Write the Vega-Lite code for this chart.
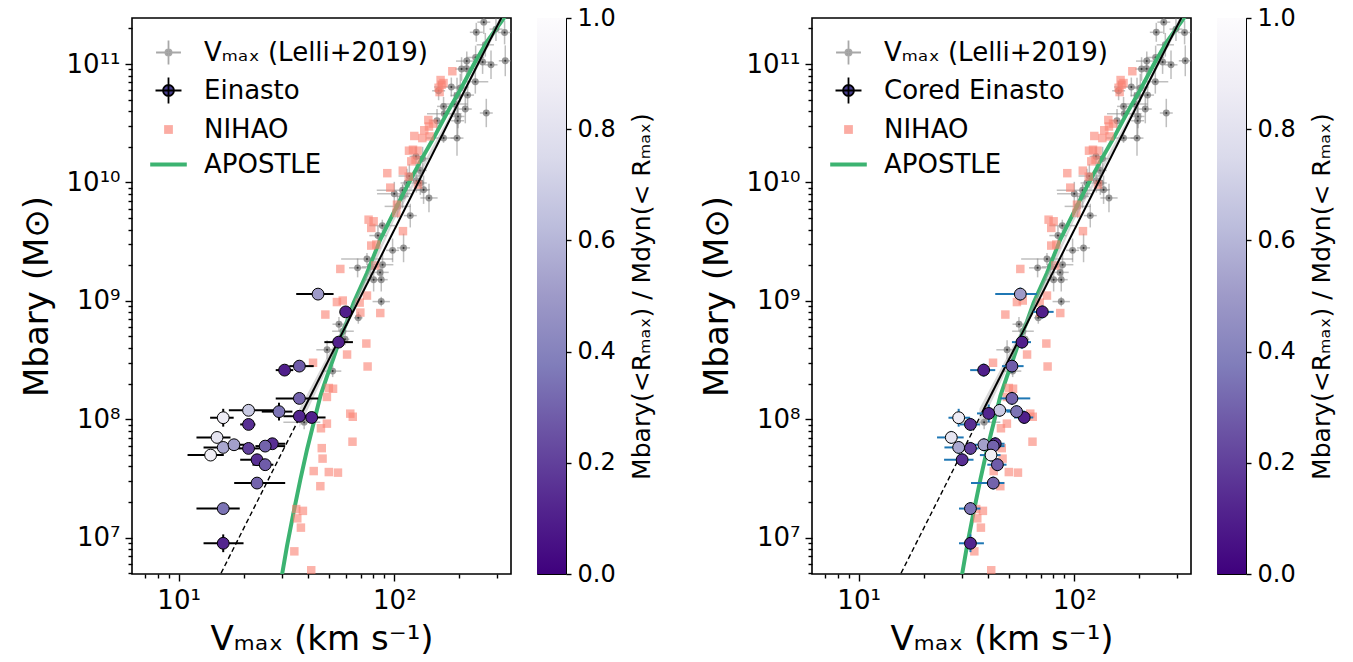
{
"$schema": "https://vega.github.io/schema/vega-lite/v6.json",
"background": "white",
"padding": {"left": 19, "top": 5, "right": 5, "bottom": 5},
"config": {
  "font": "DejaVu Sans",
  "view": {"stroke": "black", "strokeWidth": 1.6},
  "axis": {"domain": false, "grid": false, "tickColor": "black", "tickWidth": 1.4, "labelFontSize": 26, "labelColor": "black", "titleFontSize": 34, "titleFontWeight": "normal", "titleColor": "black", "labelFont": "DejaVu Sans", "titleFont": "DejaVu Sans"},
  "legend": {"labelColor": "black", "titleColor": "black", "titleFontWeight": "normal", "labelFont": "DejaVu Sans", "titleFont": "DejaVu Sans", "labelLimit": 500, "titleLimit": 800}
},
"datasets": {
  "lelli": [
    {"V":260,"M":2.26e11,"Vlo":242.7,"Vhi":278.6,"Mlo":1.795e11,"Mhi":2.845e11},
    {"V":240,"M":1.855e11,"Vlo":224.0,"Vhi":257.2,"Mlo":1.543e11,"Mhi":2.23e11},
    {"V":324.6,"M":1.848e11,"Vlo":302.9,"Vhi":347.8,"Mlo":1.468e11,"Mhi":2.326e11},
    {"V":296.1,"M":1.974e11,"Vlo":276.3,"Vhi":317.3,"Mlo":1.568e11,"Mhi":2.485e11},
    {"V":264.2,"M":1.455e11,"Vlo":240.9,"Vhi":289.7,"Mlo":1.156e11,"Mhi":1.832e11},
    {"V":327,"M":1.066e11,"Vlo":305.2,"Vhi":350.4,"Mlo":7.9e10,"Mhi":1.438e11},
    {"V":216.8,"M":1.06e11,"Vlo":193.2,"Vhi":243.3,"Mlo":8.82e10,"Mhi":1.274e11},
    {"V":238.3,"M":1.137e11,"Vlo":217.3,"Vhi":261.3,"Mlo":9.03e10,"Mhi":1.431e11},
    {"V":256.7,"M":1.04e11,"Vlo":239.6,"Vhi":275.1,"Mlo":8.26e10,"Mhi":1.309e11},
    {"V":280.8,"M":9.86e10,"Vlo":262.1,"Vhi":300.9,"Mlo":7.48e10,"Mhi":1.3e11},
    {"V":205.1,"M":9.08e10,"Vlo":191.4,"Vhi":219.8,"Mlo":7.21e10,"Mhi":1.143e11},
    {"V":216.4,"M":9.13e10,"Vlo":197.4,"Vhi":237.3,"Mlo":7.25e10,"Mhi":1.149e11},
    {"V":237.5,"M":7.09e10,"Vlo":206.8,"Vhi":272.7,"Mlo":5.63e10,"Mhi":8.93e10},
    {"V":183.8,"M":6.4e10,"Vlo":152.9,"Vhi":221.0,"Mlo":5.32e10,"Mhi":7.69e10},
    {"V":202.3,"M":6.27e10,"Vlo":188.8,"Vhi":216.8,"Mlo":4.76e10,"Mhi":8.27e10},
    {"V":160.5,"M":5.95e10,"Vlo":149.8,"Vhi":172.0,"Mlo":4.95e10,"Mhi":7.15e10},
    {"V":218.7,"M":5.47e10,"Vlo":204.1,"Vhi":234.3,"Mlo":4.35e10,"Mhi":6.89e10},
    {"V":195.3,"M":5.43e10,"Vlo":182.3,"Vhi":209.3,"Mlo":3.84e10,"Mhi":7.67e10},
    {"V":169.2,"M":4.39e10,"Vlo":157.9,"Vhi":181.3,"Mlo":3.65e10,"Mhi":5.28e10},
    {"V":213.4,"M":4.17e10,"Vlo":199.2,"Vhi":228.7,"Mlo":3.16e10,"Mhi":5.5e10},
    {"V":190.3,"M":4.6e10,"Vlo":165.7,"Vhi":218.5,"Mlo":3.65e10,"Mhi":5.79e10},
    {"V":267,"M":3.86e10,"Vlo":249.2,"Vhi":286.1,"Mlo":2.93e10,"Mhi":5.09e10},
    {"V":197.4,"M":3.61e10,"Vlo":184.2,"Vhi":211.5,"Mlo":2.87e10,"Mhi":4.54e10},
    {"V":170.5,"M":3.81e10,"Vlo":141.8,"Vhi":205.0,"Mlo":3.32e10,"Mhi":4.37e10},
    {"V":196.6,"M":3.32e10,"Vlo":183.5,"Vhi":210.7,"Mlo":2.52e10,"Mhi":4.38e10},
    {"V":157.8,"M":3.32e10,"Vlo":147.3,"Vhi":169.1,"Mlo":2.64e10,"Mhi":4.18e10},
    {"V":195.3,"M":2.37e10,"Vlo":182.3,"Vhi":209.3,"Mlo":1.68e10,"Mhi":3.35e10},
    {"V":169.2,"M":2.37e10,"Vlo":140.7,"Vhi":203.4,"Mlo":2.16e10,"Mhi":2.6e10},
    {"V":126.1,"M":1.66e10,"Vlo":117.7,"Vhi":135.1,"Mlo":1.38e10,"Mhi":2.0e10},
    {"V":135.3,"M":1.59e10,"Vlo":126.3,"Vhi":145.0,"Mlo":1.263e10,"Mhi":2.0e10},
    {"V":132,"M":1.265e10,"Vlo":123.2,"Vhi":141.4,"Mlo":9.6e9,"Mhi":1.668e10},
    {"V":117.4,"M":1.134e10,"Vlo":104.6,"Vhi":131.7,"Mlo":9.01e9,"Mhi":1.428e10},
    {"V":126.5,"M":1.035e10,"Vlo":118.1,"Vhi":135.5,"Mlo":8.22e9,"Mhi":1.303e10},
    {"V":132,"M":9.9e9,"Vlo":123.2,"Vhi":141.4,"Mlo":7.86e9,"Mhi":1.246e10},
    {"V":114.5,"M":9.9e9,"Vlo":106.9,"Vhi":122.7,"Mlo":7.51e9,"Mhi":1.305e10},
    {"V":136.7,"M":8.69e9,"Vlo":127.6,"Vhi":146.5,"Mlo":6.59e9,"Mhi":1.146e10},
    {"V":109.3,"M":8.58e9,"Vlo":82.9,"Vhi":144.1,"Mlo":7.65e9,"Mhi":9.63e9},
    {"V":144.8,"M":7.4e9,"Vlo":132.1,"Vhi":158.8,"Mlo":5.61e9,"Mhi":9.76e9},
    {"V":100,"M":8.04e9,"Vlo":83.2,"Vhi":120.2,"Mlo":6.39e9,"Mhi":1.012e10},
    {"V":109.3,"M":7.63e9,"Vlo":102.0,"Vhi":117.1,"Mlo":6.06e9,"Mhi":9.61e9},
    {"V":103.6,"M":6.28e9,"Vlo":90.2,"Vhi":119.0,"Mlo":4.99e9,"Mhi":7.91e9},
    {"V":118.6,"M":5.25e9,"Vlo":110.7,"Vhi":127.1,"Mlo":4.17e9,"Mhi":6.61e9},
    {"V":88,"M":4.32e9,"Vlo":76.6,"Vhi":101.0,"Mlo":3.85e9,"Mhi":4.85e9},
    {"V":84,"M":3.56e9,"Vlo":76.6,"Vhi":92.1,"Mlo":2.96e9,"Mhi":4.28e9},
    {"V":110.4,"M":2.8e9,"Vlo":103.0,"Vhi":118.3,"Mlo":2.12e9,"Mhi":3.69e9},
    {"V":98.2,"M":2.67e9,"Vlo":91.6,"Vhi":105.2,"Mlo":2.12e9,"Mhi":3.36e9},
    {"V":74.7,"M":2.26e9,"Vlo":56.7,"Vhi":98.5,"Mlo":2.01e9,"Mhi":2.54e9},
    {"V":67.6,"M":1.9e9,"Vlo":61.7,"Vhi":74.1,"Mlo":1.58e9,"Mhi":2.28e9},
    {"V":88.2,"M":2.02e9,"Vlo":78.6,"Vhi":99.0,"Mlo":1.6e9,"Mhi":2.54e9},
    {"V":77.4,"M":1.94e9,"Vlo":70.6,"Vhi":84.9,"Mlo":1.61e9,"Mhi":2.33e9},
    {"V":85.9,"M":1.74e9,"Vlo":78.3,"Vhi":94.2,"Mlo":1.52e9,"Mhi":2.0e9},
    {"V":80.2,"M":1.51e9,"Vlo":73.1,"Vhi":87.9,"Mlo":1.2e9,"Mhi":1.9e9},
    {"V":87,"M":1.51e9,"Vlo":81.2,"Vhi":93.2,"Mlo":1.2e9,"Mhi":1.9e9},
    {"V":87,"M":9.86e8,"Vlo":79.3,"Vhi":95.4,"Mlo":8.99e8,"Mhi":1.081e9},
    {"V":68.1,"M":7.19e8,"Vlo":65.0,"Vhi":71.3,"Mlo":6.41e8,"Mhi":8.07e8},
    {"V":55.4,"M":6.35e8,"Vlo":51.7,"Vhi":59.4,"Mlo":5.53e8,"Mhi":7.29e8},
    {"V":57.8,"M":5.54e8,"Vlo":51.5,"Vhi":64.9,"Mlo":4.94e8,"Mhi":6.22e8},
    {"V":59.1,"M":4.74e8,"Vlo":56.4,"Vhi":61.9,"Mlo":4.22e8,"Mhi":5.32e8},
    {"V":48.8,"M":3.86e8,"Vlo":43.5,"Vhi":54.8,"Mlo":3.21e8,"Mhi":4.64e8},
    {"V":51.8,"M":2.55e8,"Vlo":47.2,"Vhi":56.8,"Mlo":2.27e8,"Mhi":2.86e8},
    {"V":38.2,"M":9.45e7,"Vlo":30.6,"Vhi":45.4,"Mlo":8.23e7,"Mhi":1.085e8}
  ],
  "nihao": [
    {"V":185.8,"M":8.7e10},{"V":163.9,"M":7.33e10},{"V":169.2,"M":6.91e10},{"V":165.7,"M":6.69e10},
    {"V":160.5,"M":6.31e10},{"V":162.2,"M":5.8e10},{"V":143.8,"M":3.37e10},{"V":151.2,"M":3.14e10},
    {"V":144.8,"M":2.97e10},{"V":137.7,"M":2.76e10},{"V":123.8,"M":2.47e10},{"V":134.9,"M":2.37e10},
    {"V":145.7,"M":2.45e10},{"V":117.0,"M":1.855e10},{"V":122.1,"M":1.891e10},{"V":128.2,"M":1.855e10},
    {"V":119.9,"M":1.507e10},{"V":125.5,"M":1.557e10},{"V":92.8,"M":1.198e10},{"V":109.5,"M":1.258e10},
    {"V":116.7,"M":1.119e10},{"V":95.8,"M":9.04e9},{"V":128.8,"M":9.58e9},{"V":102.9,"M":6.49e9},
    {"V":102.2,"M":5.53e9},{"V":76.0,"M":4.85e9},{"V":80.2,"M":4.7e9},{"V":78.2,"M":4.13e9},
    {"V":109.7,"M":3.88e9},{"V":78.2,"M":2.93e9},{"V":82.5,"M":2.99e9},{"V":56.2,"M":1.86e9},
    {"V":81.6,"M":1.99e9},{"V":74.7,"M":1.108e9},{"V":57.7,"M":1.006e9},{"V":54.2,"M":9.77e8},
    {"V":69.1,"M":9.67e8},{"V":47.9,"M":7.66e8},{"V":69.6,"M":7.96e8},{"V":86.1,"M":7.89e8},
    {"V":74.2,"M":4.36e8},{"V":60.4,"M":3.52e8},{"V":75.2,"M":2.79e8},{"V":42.0,"M":3.0e8},
    {"V":49.7,"M":1.837e8},{"V":52.0,"M":1.81e8},{"V":48.7,"M":1.543e8},{"V":62.5,"M":1.115e8},
    {"V":64.2,"M":1.05e8},{"V":48.7,"M":9.18e7},{"V":45.7,"M":8.39e7},{"V":64.0,"M":6.46e7},
    {"V":46.1,"M":5.7e7},{"V":46.5,"M":4.65e7},{"V":42.3,"M":3.65e7},{"V":49.7,"M":3.58e7},
    {"V":54.8,"M":3.54e7},{"V":45.4,"M":2.72e7},{"V":35.1,"M":1.742e7},{"V":37.7,"M":1.683e7},
    {"V":35.5,"M":1.455e7},{"V":36.9,"M":1.215e7},{"V":34.4,"M":7.66e6},{"V":41.2,"M":5.3e6}
  ],
  "apostle": [
    {"V":29.6,"M":4.03e6},{"V":30.2,"M":4.93e6},{"V":31.8,"M":8.49e6},{"V":34.1,"M":1.625e7},
    {"V":36.7,"M":3.1e7},{"V":39.4,"M":5.56e7},{"V":42.3,"M":9.34e7},{"V":45.4,"M":1.566e8},
    {"V":48.8,"M":2.31e8},{"V":52.3,"M":3.3e8},{"V":56.2,"M":4.87e8},{"V":60.4,"M":6.73e8},
    {"V":64.8,"M":9.62e8},{"V":74.7,"M":1.72e9},{"V":86.1,"M":3.29e9},{"V":99.2,"M":5.53e9},
    {"V":114.5,"M":9.27e9},{"V":132.0,"M":1.507e10},{"V":152.1,"M":2.37e10},{"V":175.5,"M":3.86e10},
    {"V":202.3,"M":6.07e10},{"V":233.2,"M":9.86e10},{"V":269.1,"M":1.551e11},{"V":330.5,"M":2.61e11},
    {"V":352.4,"M":3.17e11}
  ],
  "band": [
    {"V":36.3,"Mlo":8.5e7,"Mhi":1.227e8},{"V":56.2,"Mlo":4.54e8,"Mhi":5.47e8},
    {"V":100,"Mlo":4.79e9,"Mhi":5.24e9},{"V":199.5,"Mlo":4.55e10,"Mhi":5.1e10},
    {"V":354.8,"Mlo":3.55e11,"Mhi":4.17e11}
  ],
  "fitsolid": [{"V":37.33,"M":1.134e8},{"V":354.8,"M":3.85e11}],
  "fitdash": [{"V":15.14,"M":4.36e6},{"V":37.33,"M":1.134e8}],
  "cbar": [{"lo":0,"hi":1,"a":0,"b":1}],
  "ein": [
    {"V":44.3,"Vlo":35.1,"Vhi":52.3,"M":1.14e9,"Mlo":1.04e9,"Mhi":1.25e9,"r":0.5},
    {"V":59.5,"Vlo":56.2,"Vhi":63.9,"M":8.07e8,"Mlo":7.36e8,"Mhi":8.85e8,"r":0.1},
    {"V":55.2,"Vlo":47.4,"Vhi":64.3,"M":4.48e8,"Mlo":4.09e8,"Mhi":4.91e8,"r":0.1},
    {"V":31.0,"Vlo":28.2,"Vhi":34.0,"M":2.6e8,"Mlo":2.37e8,"Mhi":2.85e8,"r":0.1},
    {"V":36.3,"Vlo":32.6,"Vhi":42.3,"M":2.81e8,"Mlo":2.56e8,"Mhi":3.08e8,"r":0.28},
    {"V":36.3,"Vlo":28.2,"Vhi":44.4,"M":1.5e8,"Mlo":1.368e8,"Mhi":1.645e8,"r":0.3},
    {"V":21.1,"Vlo":17.1,"Vhi":28.6,"M":1.19e8,"Mlo":1.085e8,"Mhi":1.305e8,"r":0.68},
    {"V":29.2,"Vlo":24.3,"Vhi":33.7,"M":1.16e8,"Mlo":9.76e7,"Mhi":1.379e8,"r":0.35},
    {"V":36.3,"Vlo":30.6,"Vhi":40.8,"M":1.06e8,"Mlo":9.67e7,"Mhi":1.162e8,"r":0.12},
    {"V":41.4,"Vlo":36.7,"Vhi":48.0,"M":1.035e8,"Mlo":9.44e7,"Mhi":1.135e8,"r":0.1},
    {"V":16.1,"Vlo":14.0,"Vhi":18.0,"M":1.03e8,"Mlo":8.66e7,"Mhi":1.225e8,"r":0.87},
    {"V":21.1,"Vlo":19.3,"Vhi":22.7,"M":9.04e7,"Mlo":8.24e7,"Mhi":9.91e7,"r":0.15},
    {"V":15.07,"Vlo":12.1,"Vhi":17.4,"M":7.02e7,"Mlo":6.4e7,"Mhi":7.7e7,"r":0.82},
    {"V":16.1,"Vlo":13.05,"Vhi":19.3,"M":5.78e7,"Mlo":5.27e7,"Mhi":6.34e7,"r":0.55},
    {"V":18.06,"Vlo":15.5,"Vhi":21.0,"M":6.09e7,"Mlo":5.55e7,"Mhi":6.68e7,"r":0.52},
    {"V":14.07,"Vlo":11.0,"Vhi":16.2,"M":4.98e7,"Mlo":4.54e7,"Mhi":5.46e7,"r":0.88},
    {"V":21.1,"Vlo":18.5,"Vhi":24.0,"M":5.67e7,"Mlo":5.17e7,"Mhi":6.22e7,"r":0.2},
    {"V":27.2,"Vlo":24.5,"Vhi":31.2,"M":6.21e7,"Mlo":5.66e7,"Mhi":6.81e7,"r":0.15},
    {"V":25.2,"Vlo":22.7,"Vhi":31.2,"M":5.93e7,"Mlo":5.41e7,"Mhi":6.5e7,"r":0.3},
    {"V":23.1,"Vlo":19.3,"Vhi":25.2,"M":4.55e7,"Mlo":4.15e7,"Mhi":4.99e7,"r":0.15},
    {"V":25.2,"Vlo":22.0,"Vhi":27.5,"M":4.13e7,"Mlo":3.77e7,"Mhi":4.53e7,"r":0.28},
    {"V":23.1,"Vlo":18.1,"Vhi":31.2,"M":2.89e7,"Mlo":2.64e7,"Mhi":3.17e7,"r":0.3},
    {"V":16.1,"Vlo":12.1,"Vhi":19.2,"M":1.76e7,"Mlo":1.605e7,"Mhi":1.93e7,"r":0.35},
    {"V":16.1,"Vlo":13.05,"Vhi":20.0,"M":8.96e6,"Mlo":7.54e6,"Mhi":1.065e7,"r":0.12}
  ],
  "cored": [
    {"V":56.2,"Vlo":43.0,"Vhi":67.1,"M":1.14e9,"Mlo":1.004e9,"Mhi":1.294e9,"r":0.5},
    {"V":71.1,"Vlo":64.7,"Vhi":80.2,"M":8.07e8,"Mlo":7.11e8,"Mhi":9.16e8,"r":0.1},
    {"V":57.2,"Vlo":51.4,"Vhi":63.0,"M":4.48e8,"Mlo":3.95e8,"Mhi":5.08e8,"r":0.1},
    {"V":38.0,"Vlo":32.9,"Vhi":43.0,"M":2.6e8,"Mlo":2.29e8,"Mhi":2.95e8,"r":0.1},
    {"V":51.4,"Vlo":46.2,"Vhi":58.2,"M":2.81e8,"Mlo":2.48e8,"Mhi":3.19e8,"r":0.28},
    {"V":51.4,"Vlo":45.4,"Vhi":62.5,"M":1.5e8,"Mlo":1.322e8,"Mhi":1.703e8,"r":0.3},
    {"V":58.6,"Vlo":52.5,"Vhi":64.5,"M":1.035e8,"Mlo":9.12e7,"Mhi":1.175e8,"r":0.1},
    {"V":45.1,"Vlo":40.8,"Vhi":50.5,"M":1.19e8,"Mlo":1.048e8,"Mhi":1.351e8,"r":0.68},
    {"V":54.0,"Vlo":48.5,"Vhi":59.0,"M":1.16e8,"Mlo":1.022e8,"Mhi":1.317e8,"r":0.35},
    {"V":40.1,"Vlo":35.4,"Vhi":45.4,"M":1.12e8,"Mlo":9.42e7,"Mhi":1.332e8,"r":0.12},
    {"V":29.1,"Vlo":26.1,"Vhi":32.9,"M":1.03e8,"Mlo":8.66e7,"Mhi":1.225e8,"r":0.87},
    {"V":33.0,"Vlo":29.5,"Vhi":36.5,"M":9.04e7,"Mlo":7.96e7,"Mhi":1.026e8,"r":0.15},
    {"V":26.9,"Vlo":23.1,"Vhi":30.7,"M":7.02e7,"Mlo":6.19e7,"Mhi":7.97e7,"r":0.82},
    {"V":29.1,"Vlo":25.0,"Vhi":32.5,"M":5.78e7,"Mlo":5.09e7,"Mhi":6.56e7,"r":0.55},
    {"V":33.0,"Vlo":30.0,"Vhi":36.0,"M":5.67e7,"Mlo":5.0e7,"Mhi":6.44e7,"r":0.2},
    {"V":43.0,"Vlo":39.0,"Vhi":47.5,"M":6.21e7,"Mlo":5.47e7,"Mhi":7.05e7,"r":0.15},
    {"V":38.1,"Vlo":34.0,"Vhi":42.5,"M":6.09e7,"Mlo":5.37e7,"Mhi":6.91e7,"r":0.52},
    {"V":42.1,"Vlo":37.0,"Vhi":47.5,"M":5.93e7,"Mlo":5.22e7,"Mhi":6.73e7,"r":0.3},
    {"V":41.1,"Vlo":36.5,"Vhi":45.5,"M":4.98e7,"Mlo":4.39e7,"Mhi":5.65e7,"r":0.88},
    {"V":30.2,"Vlo":24.9,"Vhi":34.1,"M":4.55e7,"Mlo":4.01e7,"Mhi":5.16e7,"r":0.15},
    {"V":44.0,"Vlo":39.5,"Vhi":48.5,"M":4.13e7,"Mlo":3.64e7,"Mhi":4.69e7,"r":0.28},
    {"V":42.1,"Vlo":33.2,"Vhi":47.4,"M":2.89e7,"Mlo":2.55e7,"Mhi":3.28e7,"r":0.3},
    {"V":33.0,"Vlo":29.2,"Vhi":36.7,"M":1.76e7,"Mlo":1.551e7,"Mhi":1.998e7,"r":0.35},
    {"V":33.0,"Vlo":29.2,"Vhi":38.1,"M":8.96e6,"Mlo":7.54e6,"Mhi":1.065e7,"r":0.12}
  ]
},
"spacing": 44,
"resolve": {"scale": {"color": "independent", "fill": "independent", "stroke": "independent", "shape": "independent"}, "legend": {"color": "independent", "fill": "independent", "stroke": "independent", "shape": "independent"}},
"hconcat": [
{
 "spacing": 24,
 "hconcat": [
 {
  "width": 379, "height": 556,
  "layer": [
    {"data": {"name": "lelli"}, "mark": {"type": "rule", "clip": true, "color": "#808080", "opacity": 0.5, "strokeWidth": 1.5},
     "encoding": {
       "x": {"field": "Vlo", "type": "quantitative", "scale": {"type": "log", "domain": [6.08, 347.6], "nice": false},
             "axis": {"values": [7,8,9,10,20,30,40,50,60,70,80,90,100,200,300], "labelExpr": "datum.value == 10 ? '10¹' : datum.value == 100 ? '10²' : ''", "tickSize": {"expr": "(datum.value == 10 || datum.value == 100) ? 7 : 4"}, "title": "Vₘₐₓ (km s⁻¹)", "titlePadding": 9, "labelPadding": 6, "labelFlush": false, "labelOverlap": false}},
       "x2": {"field": "Vhi"},
       "y": {"field": "M", "type": "quantitative", "scale": {"type": "log", "domain": [4.93e6, 2.45e11], "nice": false},
             "axis": {"values": [5e6,6e6,7e6,8e6,9e6,1e7,2e7,3e7,4e7,5e7,6e7,7e7,8e7,9e7,1e8,2e8,3e8,4e8,5e8,6e8,7e8,8e8,9e8,1e9,2e9,3e9,4e9,5e9,6e9,7e9,8e9,9e9,1e10,2e10,3e10,4e10,5e10,6e10,7e10,8e10,9e10,1e11,2e11], "labelExpr": "datum.value == 1e7 ? '10⁷' : datum.value == 1e8 ? '10⁸' : datum.value == 1e9 ? '10⁹' : datum.value == 1e10 ? '10¹⁰' : datum.value == 1e11 ? '10¹¹' : ''", "tickSize": {"expr": "indexof([1e7,1e8,1e9,1e10,1e11], datum.value) >= 0 ? 7 : 4"}, "title": "Mbary (M⊙)", "titlePadding": 12, "labelPadding": 5, "labelOverlap": false}}
     }},
    {"data": {"name": "lelli"}, "mark": {"type": "rule", "clip": true, "color": "#808080", "opacity": 0.5, "strokeWidth": 1.5},
     "encoding": {"x": {"field": "V", "type": "quantitative", "title": "Vₘₐₓ (km s⁻¹)"}, "y": {"field": "Mlo", "type": "quantitative", "title": "Mbary (M⊙)"}, "y2": {"field": "Mhi"}}},
    {"data": {"name": "lelli"}, "mark": {"type": "point", "filled": true, "clip": true, "color": "#808080", "opacity": 0.8, "size": 48},
     "encoding": {"x": {"field": "V", "type": "quantitative", "title": "Vₘₐₓ (km s⁻¹)"}, "y": {"field": "M", "type": "quantitative", "title": "Mbary (M⊙)"}}},
    {"data": {"name": "lelli"}, "mark": {"type": "point", "filled": true, "clip": true, "color": "#2b2b2b", "opacity": 0.9, "size": 4},
     "encoding": {"x": {"field": "V", "type": "quantitative", "title": "Vₘₐₓ (km s⁻¹)"}, "y": {"field": "M", "type": "quantitative", "title": "Mbary (M⊙)"}}},
    {"data": {"name": "apostle"}, "mark": {"type": "line", "clip": true, "color": "#3cb371", "strokeWidth": 4},
     "encoding": {"x": {"field": "V", "type": "quantitative", "title": "Vₘₐₓ (km s⁻¹)"}, "y": {"field": "M", "type": "quantitative", "title": "Mbary (M⊙)"}}},
    {"data": {"name": "nihao"}, "mark": {"type": "point", "shape": "square", "filled": true, "clip": true, "color": "#fa8072", "opacity": 0.6, "size": 72},
     "encoding": {"x": {"field": "V", "type": "quantitative", "title": "Vₘₐₓ (km s⁻¹)"}, "y": {"field": "M", "type": "quantitative", "title": "Mbary (M⊙)"}}},
    {"data": {"name": "band"}, "mark": {"type": "area", "clip": true, "color": "#aaaaaa", "opacity": 0.45},
     "encoding": {"x": {"field": "V", "type": "quantitative", "title": "Vₘₐₓ (km s⁻¹)"}, "y": {"field": "Mlo", "type": "quantitative", "title": "Mbary (M⊙)"}, "y2": {"field": "Mhi"}}},
    {"data": {"name": "fitsolid"}, "mark": {"type": "line", "clip": true, "color": "black", "strokeWidth": 2},
     "encoding": {"x": {"field": "V", "type": "quantitative", "title": "Vₘₐₓ (km s⁻¹)"}, "y": {"field": "M", "type": "quantitative", "title": "Mbary (M⊙)"}}},
    {"data": {"name": "fitdash"}, "mark": {"type": "line", "clip": true, "color": "black", "strokeWidth": 1.4, "strokeDash": [5, 3]},
     "encoding": {"x": {"field": "V", "type": "quantitative", "title": "Vₘₐₓ (km s⁻¹)"}, "y": {"field": "M", "type": "quantitative", "title": "Mbary (M⊙)"}}},
    {"data": {"name": "ein"}, "mark": {"type": "rule", "clip": true, "color": "black", "strokeWidth": 2},
     "encoding": {"x": {"field": "Vlo", "type": "quantitative", "title": "Vₘₐₓ (km s⁻¹)"}, "x2": {"field": "Vhi"}, "y": {"field": "M", "type": "quantitative", "title": "Mbary (M⊙)"}}},
    {"data": {"name": "ein"}, "mark": {"type": "rule", "clip": true, "color": "black", "strokeWidth": 2},
     "encoding": {"x": {"field": "V", "type": "quantitative", "title": "Vₘₐₓ (km s⁻¹)"}, "y": {"field": "Mlo", "type": "quantitative", "title": "Mbary (M⊙)"}, "y2": {"field": "Mhi"}}},
    {"data": {"name": "ein"}, "mark": {"type": "circle", "clip": true, "opacity": 1, "size": 140, "stroke": "black", "strokeWidth": 1},
     "encoding": {"x": {"field": "V", "type": "quantitative", "title": "Vₘₐₓ (km s⁻¹)"}, "y": {"field": "M", "type": "quantitative", "title": "Mbary (M⊙)"},
       "color": {"field": "r", "type": "quantitative", "scale": {"domain": [0, 0.125, 0.25, 0.375, 0.5, 0.625, 0.75, 0.875, 1], "range": ["#3f007d", "#54278f", "#6a51a3", "#807dba", "#9e9ac8", "#bcbddc", "#dadaeb", "#efedf5", "#fcfbfd"], "interpolate": "rgb"}, "legend": null}}},
    {"data": {"values": []}, "mark": {"type": "point", "filled": true, "opacity": 1, "strokeWidth": 1.8},
     "encoding": {"x": {"field": "V", "type": "quantitative", "title": "Vₘₐₓ (km s⁻¹)"}, "y": {"field": "M", "type": "quantitative", "title": "Mbary (M⊙)"},
       "shape": {"field": "s", "type": "nominal", "scale": {"domain": ["Vₘₐₓ (Lelli+2019)", "Einasto", "NIHAO", "APOSTLE"], "range": ["M-0.68,0H0.68M0,-0.66V0.66M-0.17,0A0.17,0.17,0,1,1,0.17,0A0.17,0.17,0,1,1,-0.17,0Z", "M-0.71,0H0.71M0,-0.71V0.71M-0.3,0A0.3,0.3,0,1,1,0.3,0A0.3,0.3,0,1,1,-0.3,0Z", "M-0.24,-0.24H0.24V0.24H-0.24Z", "M-1,-0.11H1V0.11H-1Z"]},
         "legend": {"title": null, "orient": "none", "legendX": 17, "legendY": 15, "symbolSize": 1340, "labelFontSize": 26, "labelOffset": 16, "rowPadding": 2, "padding": 0, "symbolStrokeWidth": 1.8}},
       "fill": {"field": "s", "type": "nominal", "scale": {"domain": ["Vₘₐₓ (Lelli+2019)", "Einasto", "NIHAO", "APOSTLE"], "range": ["#8c8c8c", "#463c8d", "#fbaca3", "#3cb371"]},
         "legend": {"title": null, "orient": "none", "legendX": 17, "legendY": 15, "symbolSize": 1340, "labelFontSize": 26, "labelOffset": 16, "rowPadding": 2, "padding": 0, "symbolStrokeWidth": 1.8}},
       "stroke": {"field": "s", "type": "nominal", "scale": {"domain": ["Vₘₐₓ (Lelli+2019)", "Einasto", "NIHAO", "APOSTLE"], "range": ["#a8a8a8", "black", "transparent", "transparent"]},
         "legend": {"title": null, "orient": "none", "legendX": 17, "legendY": 15, "symbolSize": 1340, "labelFontSize": 26, "labelOffset": 16, "rowPadding": 2, "padding": 0, "symbolStrokeWidth": 1.8}}
     }}
  ]
 },
 {
  "width": 29, "height": 556,
  "view": {"stroke": "black", "strokeWidth": 1},
  "data": {"name": "cbar"},
  "mark": {"type": "rect", "color": {"gradient": "linear", "x1": 0, "y1": 1, "x2": 0, "y2": 0, "stops": [{"offset": 0, "color": "#3f007d"}, {"offset": 0.125, "color": "#54278f"}, {"offset": 0.25, "color": "#6a51a3"}, {"offset": 0.375, "color": "#807dba"}, {"offset": 0.5, "color": "#9e9ac8"}, {"offset": 0.625, "color": "#bcbddc"}, {"offset": 0.75, "color": "#dadaeb"}, {"offset": 0.875, "color": "#efedf5"}, {"offset": 1, "color": "#fcfbfd"}]}},
  "encoding": {
    "x": {"field": "a", "type": "quantitative", "scale": {"domain": [0, 1], "nice": false, "zero": false}, "axis": null},
    "x2": {"field": "b"},
    "y": {"field": "lo", "type": "quantitative", "scale": {"domain": [0, 1], "nice": false, "zero": false},
          "axis": {"orient": "right", "values": [0, 0.2, 0.4, 0.6, 0.8, 1], "format": ".1f", "tickSize": 5, "labelFontSize": 24, "labelPadding": 6, "labelFlush": false, "labelOverlap": false, "labelBound": false, "title": "Mbary(<Rₘₐₓ) / Mdyn(< Rₘₐₓ)", "titleAngle": 270, "titleBaseline": "top", "titleFontSize": 25, "titlePadding": 14}},
    "y2": {"field": "hi"}
  }
 }
 ]
},
{
 "spacing": 24,
 "hconcat": [
 {
  "width": 379, "height": 556,
  "layer": [
    {"data": {"name": "lelli"}, "mark": {"type": "rule", "clip": true, "color": "#808080", "opacity": 0.5, "strokeWidth": 1.5},
     "encoding": {
       "x": {"field": "Vlo", "type": "quantitative", "scale": {"type": "log", "domain": [6.08, 347.6], "nice": false},
             "axis": {"values": [7,8,9,10,20,30,40,50,60,70,80,90,100,200,300], "labelExpr": "datum.value == 10 ? '10¹' : datum.value == 100 ? '10²' : ''", "tickSize": {"expr": "(datum.value == 10 || datum.value == 100) ? 7 : 4"}, "title": "Vₘₐₓ (km s⁻¹)", "titlePadding": 9, "labelPadding": 6, "labelFlush": false, "labelOverlap": false}},
       "x2": {"field": "Vhi"},
       "y": {"field": "M", "type": "quantitative", "scale": {"type": "log", "domain": [4.93e6, 2.45e11], "nice": false},
             "axis": {"values": [5e6,6e6,7e6,8e6,9e6,1e7,2e7,3e7,4e7,5e7,6e7,7e7,8e7,9e7,1e8,2e8,3e8,4e8,5e8,6e8,7e8,8e8,9e8,1e9,2e9,3e9,4e9,5e9,6e9,7e9,8e9,9e9,1e10,2e10,3e10,4e10,5e10,6e10,7e10,8e10,9e10,1e11,2e11], "labelExpr": "datum.value == 1e7 ? '10⁷' : datum.value == 1e8 ? '10⁸' : datum.value == 1e9 ? '10⁹' : datum.value == 1e10 ? '10¹⁰' : datum.value == 1e11 ? '10¹¹' : ''", "tickSize": {"expr": "indexof([1e7,1e8,1e9,1e10,1e11], datum.value) >= 0 ? 7 : 4"}, "title": "Mbary (M⊙)", "titlePadding": 12, "labelPadding": 5, "labelOverlap": false}}
     }},
    {"data": {"name": "lelli"}, "mark": {"type": "rule", "clip": true, "color": "#808080", "opacity": 0.5, "strokeWidth": 1.5},
     "encoding": {"x": {"field": "V", "type": "quantitative", "title": "Vₘₐₓ (km s⁻¹)"}, "y": {"field": "Mlo", "type": "quantitative", "title": "Mbary (M⊙)"}, "y2": {"field": "Mhi"}}},
    {"data": {"name": "lelli"}, "mark": {"type": "point", "filled": true, "clip": true, "color": "#808080", "opacity": 0.8, "size": 48},
     "encoding": {"x": {"field": "V", "type": "quantitative", "title": "Vₘₐₓ (km s⁻¹)"}, "y": {"field": "M", "type": "quantitative", "title": "Mbary (M⊙)"}}},
    {"data": {"name": "lelli"}, "mark": {"type": "point", "filled": true, "clip": true, "color": "#2b2b2b", "opacity": 0.9, "size": 4},
     "encoding": {"x": {"field": "V", "type": "quantitative", "title": "Vₘₐₓ (km s⁻¹)"}, "y": {"field": "M", "type": "quantitative", "title": "Mbary (M⊙)"}}},
    {"data": {"name": "apostle"}, "mark": {"type": "line", "clip": true, "color": "#3cb371", "strokeWidth": 4},
     "encoding": {"x": {"field": "V", "type": "quantitative", "title": "Vₘₐₓ (km s⁻¹)"}, "y": {"field": "M", "type": "quantitative", "title": "Mbary (M⊙)"}}},
    {"data": {"name": "nihao"}, "mark": {"type": "point", "shape": "square", "filled": true, "clip": true, "color": "#fa8072", "opacity": 0.6, "size": 72},
     "encoding": {"x": {"field": "V", "type": "quantitative", "title": "Vₘₐₓ (km s⁻¹)"}, "y": {"field": "M", "type": "quantitative", "title": "Mbary (M⊙)"}}},
    {"data": {"name": "band"}, "mark": {"type": "area", "clip": true, "color": "#aaaaaa", "opacity": 0.45},
     "encoding": {"x": {"field": "V", "type": "quantitative", "title": "Vₘₐₓ (km s⁻¹)"}, "y": {"field": "Mlo", "type": "quantitative", "title": "Mbary (M⊙)"}, "y2": {"field": "Mhi"}}},
    {"data": {"name": "fitsolid"}, "mark": {"type": "line", "clip": true, "color": "black", "strokeWidth": 2},
     "encoding": {"x": {"field": "V", "type": "quantitative", "title": "Vₘₐₓ (km s⁻¹)"}, "y": {"field": "M", "type": "quantitative", "title": "Mbary (M⊙)"}}},
    {"data": {"name": "fitdash"}, "mark": {"type": "line", "clip": true, "color": "black", "strokeWidth": 1.4, "strokeDash": [5, 3]},
     "encoding": {"x": {"field": "V", "type": "quantitative", "title": "Vₘₐₓ (km s⁻¹)"}, "y": {"field": "M", "type": "quantitative", "title": "Mbary (M⊙)"}}},
    {"data": {"name": "cored"}, "mark": {"type": "rule", "clip": true, "color": "#1f77b4", "strokeWidth": 2},
     "encoding": {"x": {"field": "Vlo", "type": "quantitative", "title": "Vₘₐₓ (km s⁻¹)"}, "x2": {"field": "Vhi"}, "y": {"field": "M", "type": "quantitative", "title": "Mbary (M⊙)"}}},
    {"data": {"name": "cored"}, "mark": {"type": "rule", "clip": true, "color": "#1f77b4", "strokeWidth": 2},
     "encoding": {"x": {"field": "V", "type": "quantitative", "title": "Vₘₐₓ (km s⁻¹)"}, "y": {"field": "Mlo", "type": "quantitative", "title": "Mbary (M⊙)"}, "y2": {"field": "Mhi"}}},
    {"data": {"name": "cored"}, "mark": {"type": "circle", "clip": true, "opacity": 1, "size": 140, "stroke": "black", "strokeWidth": 1},
     "encoding": {"x": {"field": "V", "type": "quantitative", "title": "Vₘₐₓ (km s⁻¹)"}, "y": {"field": "M", "type": "quantitative", "title": "Mbary (M⊙)"},
       "color": {"field": "r", "type": "quantitative", "scale": {"domain": [0, 0.125, 0.25, 0.375, 0.5, 0.625, 0.75, 0.875, 1], "range": ["#3f007d", "#54278f", "#6a51a3", "#807dba", "#9e9ac8", "#bcbddc", "#dadaeb", "#efedf5", "#fcfbfd"], "interpolate": "rgb"}, "legend": null}}},
    {"data": {"values": []}, "mark": {"type": "point", "filled": true, "opacity": 1, "strokeWidth": 1.8},
     "encoding": {"x": {"field": "V", "type": "quantitative", "title": "Vₘₐₓ (km s⁻¹)"}, "y": {"field": "M", "type": "quantitative", "title": "Mbary (M⊙)"},
       "shape": {"field": "s", "type": "nominal", "scale": {"domain": ["Vₘₐₓ (Lelli+2019)", "Cored Einasto", "NIHAO", "APOSTLE"], "range": ["M-0.68,0H0.68M0,-0.66V0.66M-0.17,0A0.17,0.17,0,1,1,0.17,0A0.17,0.17,0,1,1,-0.17,0Z", "M-0.71,0H0.71M0,-0.71V0.71M-0.3,0A0.3,0.3,0,1,1,0.3,0A0.3,0.3,0,1,1,-0.3,0Z", "M-0.24,-0.24H0.24V0.24H-0.24Z", "M-1,-0.11H1V0.11H-1Z"]},
         "legend": {"title": null, "orient": "none", "legendX": 17, "legendY": 15, "symbolSize": 1340, "labelFontSize": 26, "labelOffset": 16, "rowPadding": 2, "padding": 0, "symbolStrokeWidth": 1.8}},
       "fill": {"field": "s", "type": "nominal", "scale": {"domain": ["Vₘₐₓ (Lelli+2019)", "Cored Einasto", "NIHAO", "APOSTLE"], "range": ["#8c8c8c", "#463c8d", "#fbaca3", "#3cb371"]},
         "legend": {"title": null, "orient": "none", "legendX": 17, "legendY": 15, "symbolSize": 1340, "labelFontSize": 26, "labelOffset": 16, "rowPadding": 2, "padding": 0, "symbolStrokeWidth": 1.8}},
       "stroke": {"field": "s", "type": "nominal", "scale": {"domain": ["Vₘₐₓ (Lelli+2019)", "Cored Einasto", "NIHAO", "APOSTLE"], "range": ["#a8a8a8", "black", "transparent", "transparent"]},
         "legend": {"title": null, "orient": "none", "legendX": 17, "legendY": 15, "symbolSize": 1340, "labelFontSize": 26, "labelOffset": 16, "rowPadding": 2, "padding": 0, "symbolStrokeWidth": 1.8}}
     }}
  ]
 },
 {
  "width": 29, "height": 556,
  "view": {"stroke": "black", "strokeWidth": 1},
  "data": {"name": "cbar"},
  "mark": {"type": "rect", "color": {"gradient": "linear", "x1": 0, "y1": 1, "x2": 0, "y2": 0, "stops": [{"offset": 0, "color": "#3f007d"}, {"offset": 0.125, "color": "#54278f"}, {"offset": 0.25, "color": "#6a51a3"}, {"offset": 0.375, "color": "#807dba"}, {"offset": 0.5, "color": "#9e9ac8"}, {"offset": 0.625, "color": "#bcbddc"}, {"offset": 0.75, "color": "#dadaeb"}, {"offset": 0.875, "color": "#efedf5"}, {"offset": 1, "color": "#fcfbfd"}]}},
  "encoding": {
    "x": {"field": "a", "type": "quantitative", "scale": {"domain": [0, 1], "nice": false, "zero": false}, "axis": null},
    "x2": {"field": "b"},
    "y": {"field": "lo", "type": "quantitative", "scale": {"domain": [0, 1], "nice": false, "zero": false},
          "axis": {"orient": "right", "values": [0, 0.2, 0.4, 0.6, 0.8, 1], "format": ".1f", "tickSize": 5, "labelFontSize": 24, "labelPadding": 6, "labelFlush": false, "labelOverlap": false, "labelBound": false, "title": "Mbary(<Rₘₐₓ) / Mdyn(< Rₘₐₓ)", "titleAngle": 270, "titleBaseline": "top", "titleFontSize": 25, "titlePadding": 14}},
    "y2": {"field": "hi"}
  }
 }
 ]
}
]
}
